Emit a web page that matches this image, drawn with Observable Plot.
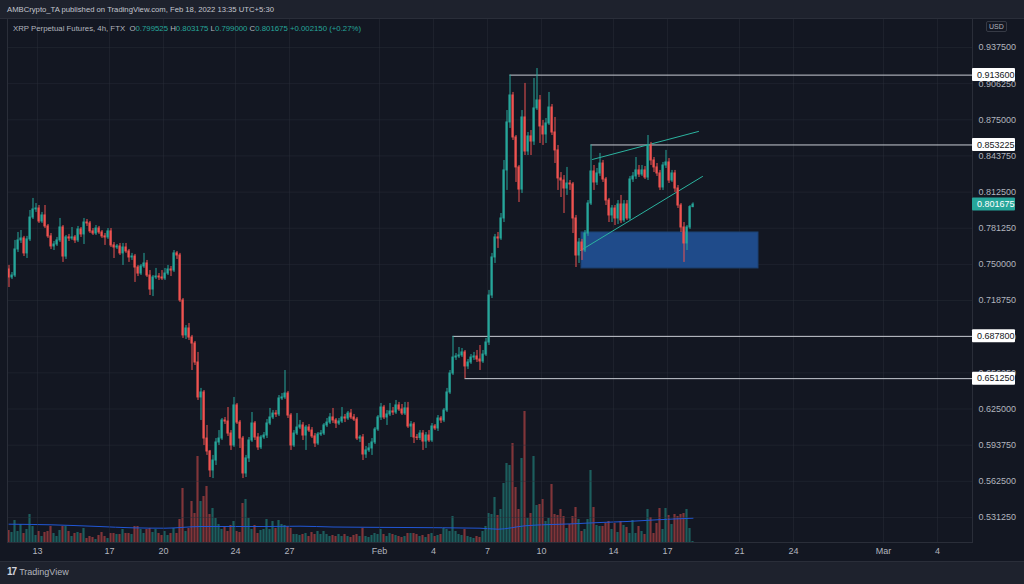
<!DOCTYPE html>
<html>
<head>
<meta charset="utf-8">
<script src="https://cdn.jsdelivr.net/npm/d3@7"></script>
<script src="https://cdn.jsdelivr.net/npm/@observablehq/plot@0.6"></script>
<style>
  html, body { margin: 0; padding: 0; background: #1e222d; }
  #wrap { position: relative; width: 1024px; height: 584px; overflow: hidden; background: #1e222d;
          font-family: "Liberation Sans", Arial, sans-serif; }
  #pane { position: absolute; left: 0; top: 18px; width: 1024px; height: 544px; background: #131722;
          box-sizing: border-box; border-top: 1px solid #2a2e39; border-bottom: 1px solid #2a2e39; }
  .layer { position: absolute; left: 0; top: 0; }
  #hdr { position: absolute; left: 7px; top: 5px; font-size: 7.7px; color: #c3c6ce; white-space: nowrap; }
  #legend { position: absolute; left: 13px; top: 24px; font-size: 7.8px; color: #b2b5be; white-space: nowrap; }
  #legend .v { color: #26a69a; }
  #usd { position: absolute; left: 986px; top: 21px; font-size: 7px; color: #b2b5be; border: 1px solid #363a45;
         border-radius: 2px; padding: 1px 2px; }
  #footer { position: absolute; left: 7px; top: 566px; font-size: 9px; color: #b2b5be; white-space: nowrap; }
  #footer b { color: #d1d4dc; font-size: 10px; letter-spacing: -1px; margin-right: 3px; }
</style>
</head>
<body>
<div id="wrap">
  <div id="pane"></div>
  <div id="hdr">AMBCrypto_TA published on TradingView.com, Feb 18, 2022 13:35 UTC+5:30</div>
  <div id="legend">XRP Perpetual Futures, 4h, FTX&nbsp;&nbsp;O<span class="v">0.799525</span> H<span class="v">0.803175</span> L<span class="v">0.799000</span> C<span class="v">0.801675</span> <span class="v">+0.002150 (+0.27%)</span></div>
  <div id="usd">USD</div>
  <div id="footer"><b>17</b>TradingView</div>
</div>
<script>
// ---------- DATA (4h candles, XRP-PERP on FTX) ----------
const candleStart = Date.UTC(2022, 0, 11, 8); // open time of first candle
const firstOpen = 0.7456;
const closes = [
0.7387,0.7404,0.7629,0.7707,0.7724,0.7595,0.7716,0.7905,0.7975,0.7983,
0.7871,0.7923,0.7828,0.7742,0.7655,0.7672,0.7707,0.7819,0.7568,0.7733,
0.7724,0.7733,0.7707,0.7802,0.7759,0.7862,0.7854,0.7785,0.7767,0.7810,
0.7776,0.7742,0.7733,0.7785,0.7664,0.7646,0.7655,0.7595,0.7646,0.7612,
0.7560,0.7568,0.7473,0.7421,0.7482,0.7508,0.7404,0.7283,0.7387,0.7395,
0.7387,0.7378,0.7421,0.7456,0.7447,0.7595,0.7577,0.7188,0.6886,0.6946,
0.6868,0.6816,0.6652,0.6350,0.6393,0.5995,0.5883,0.5719,0.5805,0.5961,
0.5995,0.6151,0.6142,0.6038,0.5935,0.6281,0.6133,0.5995,0.5693,0.5823,
0.5978,0.6125,0.6004,0.5918,0.6004,0.6021,0.6125,0.6177,0.6211,0.6203,
0.6341,0.6350,0.6384,0.6194,0.5935,0.6038,0.6090,0.6108,0.6021,0.6090,
0.6064,0.6013,0.5952,0.6030,0.6038,0.6108,0.6133,0.6177,0.6151,0.6125,
0.6142,0.6177,0.6168,0.6211,0.6177,0.6159,0.5995,0.6004,0.5857,0.5892,
0.5909,0.5961,0.6073,0.6177,0.6263,0.6177,0.6203,0.6229,0.6220,0.6281,
0.6246,0.6211,0.6255,0.6099,0.6116,0.6004,0.6000,0.6038,0.5969,0.6021,
0.5978,0.6099,0.6082,0.6168,0.6151,0.6237,0.6393,0.6557,0.6695,0.6704,
0.6713,0.6739,0.6618,0.6652,0.6695,0.6704,0.6678,0.6661,0.6721,0.6825,
0.7231,0.7560,0.7733,0.7724,0.7897,0.8312,0.8727,0.8960,0.8597,0.8338,
0.8147,0.8770,0.8476,0.8606,0.8562,0.8848,0.8917,0.8692,0.8623,0.8718,
0.8856,0.8640,0.8485,0.8243,0.8225,0.8156,0.8199,0.8191,0.7897,0.7577,
0.7689,0.7620,0.7767,0.8026,0.8303,0.8208,0.8286,0.8372,0.8234,0.8052,
0.7923,0.7983,0.7897,0.8018,0.7880,0.8018,0.7897,0.8234,0.8260,0.8312,
0.8277,0.8312,0.8251,0.8528,0.8398,0.8338,0.8286,0.8165,0.8355,0.8381,
0.8225,0.8286,0.8156,0.8009,0.7819,0.7681,0.7819,0.799525,0.801675
];
const highs = [
0.7491,0.7430,0.7707,0.7776,0.7793,0.7742,0.7742,0.7966,0.8070,0.8026,
0.8009,0.7949,0.8009,0.7845,0.7767,0.7698,0.7733,0.7897,0.7836,0.7750,
0.7759,0.7819,0.7750,0.7828,0.7819,0.7897,0.7888,0.7871,0.7810,0.7836,
0.7828,0.7793,0.7767,0.7810,0.7810,0.7689,0.7672,0.7681,0.7681,0.7681,
0.7629,0.7595,0.7586,0.7491,0.7499,0.7595,0.7534,0.7447,0.7404,0.7465,
0.7421,0.7447,0.7465,0.7491,0.7482,0.7620,0.7612,0.7595,0.7205,0.6972,
0.6989,0.6886,0.6834,0.6739,0.6428,0.6410,0.6108,0.5892,0.5849,0.5995,
0.6064,0.6168,0.6177,0.6263,0.6064,0.6350,0.6298,0.6151,0.6013,0.5849,
0.6004,0.6220,0.6142,0.6038,0.6021,0.6047,0.6159,0.6255,0.6237,0.6237,
0.6367,0.6384,0.6583,0.6402,0.6211,0.6064,0.6211,0.6151,0.6133,0.6108,
0.6116,0.6090,0.6038,0.6047,0.6064,0.6125,0.6168,0.6211,0.6255,0.6168,
0.6168,0.6263,0.6203,0.6229,0.6246,0.6203,0.6177,0.6021,0.6030,0.5926,
0.5952,0.5995,0.6090,0.6194,0.6298,0.6281,0.6237,0.6298,0.6263,0.6324,
0.6307,0.6289,0.6307,0.6307,0.6142,0.6133,0.6030,0.6064,0.6064,0.6047,
0.6064,0.6125,0.6116,0.6194,0.6185,0.6255,0.6428,0.6583,0.6878,0.6730,
0.6782,0.6773,0.6756,0.6678,0.6721,0.6739,0.6756,0.6799,0.6756,0.6860,
0.7275,0.7595,0.7759,0.7776,0.7940,0.8398,0.8830,0.9136,0.8986,0.8614,
0.8355,0.8830,0.9064,0.8640,0.8657,0.9107,0.9193,0.8960,0.8744,0.8761,
0.8986,0.8882,0.8770,0.8528,0.8294,0.8268,0.8338,0.8225,0.8208,0.7923,
0.7724,0.7716,0.7793,0.8052,0.853225,0.8355,0.8329,0.8459,0.8398,0.8251,
0.8070,0.8009,0.8009,0.8052,0.8096,0.8052,0.8052,0.8260,0.8294,0.8424,
0.8355,0.8355,0.8346,0.8614,0.8554,0.8424,0.8372,0.8312,0.8381,0.8485,
0.8415,0.8312,0.8312,0.8182,0.8026,0.7862,0.7836,0.8009,0.803175
];
const lows = [
0.7300,0.7369,0.7387,0.7603,0.7681,0.7568,0.7551,0.7698,0.7888,0.7949,
0.7854,0.7854,0.7810,0.7724,0.7629,0.7620,0.7655,0.7689,0.7517,0.7543,
0.7698,0.7707,0.7681,0.7689,0.7733,0.7672,0.7828,0.7767,0.7750,0.7750,
0.7759,0.7724,0.7664,0.7716,0.7646,0.7551,0.7629,0.7577,0.7491,0.7595,
0.7517,0.7534,0.7344,0.7395,0.7404,0.7465,0.7387,0.7231,0.7222,0.7369,
0.7361,0.7361,0.7361,0.7404,0.7395,0.7430,0.7543,0.7171,0.6860,0.6851,
0.6842,0.6583,0.6626,0.6324,0.6151,0.5935,0.5849,0.5658,0.5649,0.5762,
0.5935,0.5978,0.6116,0.6013,0.5892,0.5918,0.6116,0.5909,0.5649,0.5658,
0.5788,0.5961,0.5978,0.5892,0.5900,0.5987,0.5995,0.6108,0.6159,0.6177,
0.6185,0.6324,0.6333,0.6168,0.5892,0.5918,0.6021,0.6073,0.5978,0.5892,
0.6047,0.5995,0.5918,0.5935,0.6013,0.6021,0.6090,0.6116,0.6125,0.6082,
0.6108,0.6125,0.6133,0.6151,0.6159,0.6142,0.5978,0.5961,0.5805,0.5823,
0.5874,0.5849,0.5943,0.6056,0.6151,0.6159,0.6108,0.6185,0.6194,0.6203,
0.6229,0.6194,0.6194,0.6082,0.6004,0.5952,0.5978,0.5978,0.5892,0.5909,
0.5961,0.5961,0.6064,0.6056,0.6125,0.6133,0.6220,0.6376,0.6540,0.6670,
0.6687,0.6695,0.65125,0.6592,0.6635,0.6670,0.6652,0.6583,0.6644,0.6704,
0.6799,0.7205,0.7508,0.7638,0.7707,0.7862,0.8139,0.8675,0.8571,0.8208,
0.8035,0.8113,0.8441,0.8441,0.8441,0.8528,0.8830,0.8545,0.8528,0.8545,
0.8701,0.8614,0.8372,0.8139,0.8078,0.7940,0.8096,0.8139,0.7767,0.7473,
0.7508,0.7534,0.7603,0.7742,0.8009,0.8139,0.8182,0.8260,0.8208,0.8009,
0.7862,0.7862,0.7836,0.7845,0.7854,0.7862,0.7880,0.7880,0.8208,0.8234,
0.8251,0.8260,0.8234,0.8225,0.8355,0.8294,0.8260,0.8139,0.8139,0.8329,
0.8199,0.8208,0.8122,0.7983,0.7776,0.7517,0.7620,0.7802,0.7990
];
// volume (millions), same order as candles
const volumes = [
12,10,22,11,18,9,13,28,16,7, 11,6,10,11,16,9,6,12,16,16,
11,6,9,10,9,14,4,6,5,3, 7,10,6,4,9,9,8,8,13,9,
9,8,16,16,13,9,13,14,10,13, 9,7,11,7,9,14,9,23,54,11,
14,41,29,86,41,46,56,28,34,24, 18,13,16,11,17,21,11,10,39,43,
24,13,17,9,12,13,23,13,21,14, 22,18,17,16,14,8,8,7,8,9,
6,10,8,11,8,11,8,6,7,6, 8,6,8,6,5,7,8,6,14,6,
5,7,9,8,13,8,6,9,8,7, 6,5,6,9,9,9,8,6,7,5,
8,9,6,7,8,14,13,11,26,11, 8,7,13,6,5,4,6,5,11,16,
29,28,45,27,33,59,79,77,99,55, 33,84,131,24,29,86,37,38,43,21,
24,58,28,27,33,26,14,18,26,35, 23,11,13,23,72,35,17,16,16,19,
21,13,19,10,21,17,15,9,22,9, 16,11,8,33,25,9,19,34,13,34,
27,18,28,26,28,29,33,14,1
];
// volume moving average, read at some candle indices
const volMAIndex = [0,14,30,41,52,64,75,86,97,108,132,157,163,172,188,197,206,216,228];
const volMAValue = [18.3,17.7,16,14.7,14.3,16,16,16,16.3,15.5,15,14.3,13.3,16.7,18.7,20,21,22.7,24.3];

const priceTicks = [0.9375,0.90625,0.875,0.84375,0.8125,0.78125,0.75,0.71875,0.6875,0.65625,0.625,0.59375,0.5625,0.53125];
const dateTicks = ["2022-01-13","2022-01-17","2022-01-20","2022-01-24","2022-01-27","2022-02-01","2022-02-04","2022-02-07","2022-02-10","2022-02-14","2022-02-17","2022-02-21","2022-02-24","2022-03-01","2022-03-04"];
const dateTickLabels = ["13","17","20","24","27","Feb","4","7","10","14","17","21","24","Mar","4"];

// drawings
const levelPrices = [0.9136, 0.853225, 0.6878, 0.65125];
const levelStarts = ["2022-02-08T06:00Z","2022-02-12T18:00Z","2022-02-05T02:00Z","2022-02-05T18:00Z"];
const wedgeDates = [["2022-02-12T20:00Z","2022-02-18T17:20Z"],["2022-02-12T04:00Z","2022-02-18T22:40Z"]];
const wedgePrices = [[0.8407,0.8649],[0.7620,0.8260]];
const zoneDates = ["2022-02-12T05:20Z","2022-02-22T01:20Z"];
const zonePrices = [0.7465,0.7776];
const lastPrice = 0.801675;

// ---------- BUILD ----------
const H4 = 4 * 3600e3;
const rows = closes.map((c, i) => {
  const t = candleStart + i * H4;
  const open = i === 0 ? firstOpen : closes[i - 1];
  const up = c >= open;
  return {
    mid: new Date(t + H4 / 2), b1: new Date(t + 0.14 * H4), b2: new Date(t + 0.86 * H4),
    open, close: c, high: highs[i], low: lows[i], volume: volumes[i],
    color: up ? "#26a69a" : "#ef5350",
    vcolor: up ? "rgba(38,166,154,0.5)" : "rgba(239,83,80,0.5)"
  };
});
const maRows = volMAIndex.map((k, j) => ({t: new Date(candleStart + k * H4 + H4 / 2), v: volMAValue[j]}));
const tickDates = dateTicks.map(d => new Date(d + "T00:00Z"));
const tickLabel = new Map(tickDates.map((d, i) => [+d, dateTickLabels[i]]));
const xDomain = [new Date("2022-01-11T08:00Z"), new Date("2022-03-05T22:40Z")];
const levels = levelPrices.map((p, i) => ({p, start: new Date(levelStarts[i]), end: xDomain[1]}));
const wedge = [];
wedgeDates.forEach((ds, k) => ds.forEach((d, j) => wedge.push({k, t: new Date(d), p: wedgePrices[k][j]})));
const zone = [{x1: new Date(zoneDates[0]), x2: new Date(zoneDates[1]), y1: zonePrices[0], y2: zonePrices[1]}];

const frame = {width: 1024, height: 584, marginLeft: 7, marginRight: 52, marginTop: 18, marginBottom: 42};
const font = {background: "transparent", color: "#b2b5be", fontFamily: "Liberation Sans, Arial, sans-serif", fontSize: "9px"};

const volPlot = Plot.plot({
  ...frame, style: font,
  x: {type: "utc", domain: xDomain, axis: null},
  y: {domain: [0, d3.max(volumes) * 4], axis: null},
  color: {type: "identity"},
  marks: [
    Plot.rect(rows, {x1: "b1", x2: "b2", y1: 0, y2: "volume", fill: "vcolor"}),
    Plot.line(maRows, {x: "t", y: "v", stroke: "#2157d6", strokeWidth: 1, curve: "monotone-x"})
  ]
});

const main = Plot.plot({
  ...frame, style: font,
  x: {type: "utc", domain: xDomain},
  y: {domain: [0.50964, 0.96253]},
  color: {type: "identity"},
  marks: [
    Plot.gridY(priceTicks, {stroke: "#2a2e39", strokeOpacity: 0.45}),
    Plot.gridX(tickDates, {stroke: "#2a2e39", strokeOpacity: 0.45}),
    Plot.rect(zone, {x1: "x1", x2: "x2", y1: "y1", y2: "y2", fill: "#1f4b8a", stroke: "#1d4170"}),
    Plot.ruleY(levels, {y: "p", x1: "start", x2: "end", stroke: "#c9ccd4", strokeWidth: 1}),
    Plot.line(wedge, {x: "t", y: "p", z: "k", stroke: "#2bb39f", strokeWidth: 1}),
    Plot.ruleX(rows, {x: "mid", y1: "low", y2: "high", stroke: "color", strokeWidth: 1}),
    Plot.rect(rows, {x1: "b1", x2: "b2", y1: "open", y2: "close", fill: "color", insetTop: -0.5, insetBottom: -0.5}),
    Plot.axisY(priceTicks, {anchor: "right", tickSize: 0, tickPadding: 6, tickFormat: d => d.toFixed(6), fill: "#b2b5be", label: null}),
    Plot.axisX(tickDates, {anchor: "bottom", tickSize: 0, tickPadding: 5, tickFormat: d => tickLabel.get(+d), fill: "#b2b5be", label: null}),
    Plot.frame({stroke: "#2a2e39"})
  ]
});

volPlot.classList.add("layer");
main.classList.add("layer");
const pane = document.getElementById("pane");
pane.after(volPlot);
volPlot.after(main);

// price-scale badges (positioned by the Plot y scale)
const ys = main.scale("y");
const g = d3.select(main).append("g")
  .attr("font-size", 9).attr("font-family", "Liberation Sans, Arial, sans-serif").attr("text-anchor", "start");
const badges = levelPrices.map(p => ({p, bg: "#ffffff", fg: "#131722"})).concat([{p: lastPrice, bg: "#26a69a", fg: "#ffffff"}]);
for (const b of badges) {
  const y = ys.apply(b.p);
  g.append("rect").attr("x", 972).attr("y", y - 6.5).attr("width", 43).attr("height", 13).attr("fill", b.bg).attr("rx", 1);
  g.append("text").attr("x", 977).attr("y", y).attr("dy", "0.35em").attr("fill", b.fg).attr("text-anchor", "start").text(b.p.toFixed(6));
}
</script>
</body>
</html>
